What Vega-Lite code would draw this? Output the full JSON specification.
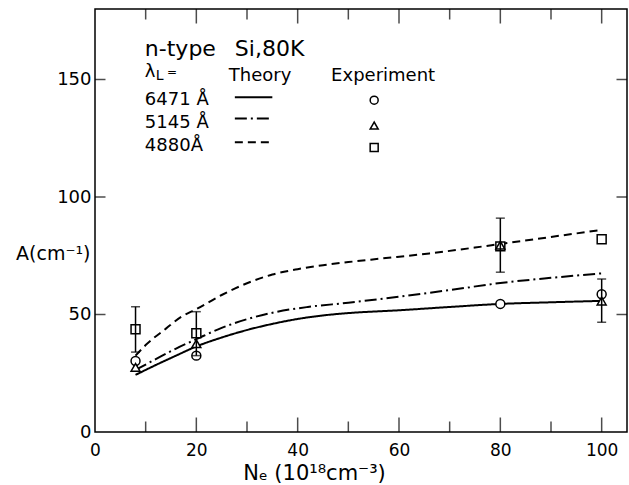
{
  "$schema": "https://vega.github.io/schema/vega-lite/v6.json",
  "width": 532,
  "height": 423,
  "autosize": {"type": "none"},
  "padding": {"left": 95, "top": 9, "right": 2, "bottom": 53},
  "background": "white",
  "config": {
    "view": {"stroke": "black", "strokeWidth": 1.5},
    "font": "DejaVu Sans",
    "axis": {"grid": false, "domain": false, "labelColor": "black", "titleColor": "black", "labelFont": "DejaVu Sans", "titleFont": "DejaVu Sans", "titleFontWeight": "normal", "labelFlush": false, "labelOverlap": false}
  },
  "datasets": {
    "theory": [
      {"lambda": "6471", "x": 8, "y": 24.3}, {"lambda": "6471", "x": 12, "y": 28.5}, {"lambda": "6471", "x": 16, "y": 32.5}, {"lambda": "6471", "x": 20, "y": 36.4}, {"lambda": "6471", "x": 25, "y": 40.2}, {"lambda": "6471", "x": 30, "y": 43.4}, {"lambda": "6471", "x": 35, "y": 46}, {"lambda": "6471", "x": 40, "y": 48.1}, {"lambda": "6471", "x": 45, "y": 49.6}, {"lambda": "6471", "x": 50, "y": 50.6}, {"lambda": "6471", "x": 60, "y": 51.8}, {"lambda": "6471", "x": 70, "y": 53.2}, {"lambda": "6471", "x": 80, "y": 54.5}, {"lambda": "6471", "x": 90, "y": 55.2}, {"lambda": "6471", "x": 100, "y": 55.8},
      {"lambda": "5145", "x": 8, "y": 26.4}, {"lambda": "5145", "x": 12, "y": 31}, {"lambda": "5145", "x": 16, "y": 35.5}, {"lambda": "5145", "x": 20, "y": 39.5}, {"lambda": "5145", "x": 25, "y": 44.3}, {"lambda": "5145", "x": 30, "y": 48}, {"lambda": "5145", "x": 36, "y": 51.2}, {"lambda": "5145", "x": 42, "y": 53.2}, {"lambda": "5145", "x": 50, "y": 55}, {"lambda": "5145", "x": 60, "y": 57.6}, {"lambda": "5145", "x": 70, "y": 60.4}, {"lambda": "5145", "x": 80, "y": 63.4}, {"lambda": "5145", "x": 90, "y": 65.6}, {"lambda": "5145", "x": 100, "y": 67.5},
      {"lambda": "4880", "x": 8, "y": 32.5}, {"lambda": "4880", "x": 10, "y": 37}, {"lambda": "4880", "x": 14, "y": 44}, {"lambda": "4880", "x": 17, "y": 49}, {"lambda": "4880", "x": 20, "y": 52.3}, {"lambda": "4880", "x": 25, "y": 58.3}, {"lambda": "4880", "x": 30, "y": 63.3}, {"lambda": "4880", "x": 35, "y": 67}, {"lambda": "4880", "x": 40, "y": 69.3}, {"lambda": "4880", "x": 45, "y": 71}, {"lambda": "4880", "x": 50, "y": 72.3}, {"lambda": "4880", "x": 56, "y": 73.7}, {"lambda": "4880", "x": 66, "y": 76}, {"lambda": "4880", "x": 75, "y": 78.5}, {"lambda": "4880", "x": 80, "y": 80}, {"lambda": "4880", "x": 90, "y": 83}, {"lambda": "4880", "x": 100, "y": 86}
    ],
    "experiment": [
      {"lambda": "4880", "x": 8, "y": 43.7}, {"lambda": "4880", "x": 20, "y": 42}, {"lambda": "4880", "x": 80, "y": 79}, {"lambda": "4880", "x": 100, "y": 82},
      {"lambda": "6471", "x": 8, "y": 30.2}, {"lambda": "6471", "x": 20, "y": 32.5}, {"lambda": "6471", "x": 80, "y": 54.5}, {"lambda": "6471", "x": 100, "y": 58.6},
      {"lambda": "5145", "x": 8, "y": 27.5}, {"lambda": "5145", "x": 20, "y": 37.6}, {"lambda": "5145", "x": 80, "y": 79.5}, {"lambda": "5145", "x": 100, "y": 55.7}
    ],
    "errors": [
      {"x": 8, "lo": 34, "hi": 53.3}, {"x": 20, "lo": 32.5, "hi": 51.2}, {"x": 80, "lo": 68, "hi": 91}, {"x": 100, "lo": 46.7, "hi": 65.1}
    ],
    "legendLines": [
      {"lambda": "6471", "x": 27.6, "x2": 35.0, "y": 142.5},
      {"lambda": "5145", "x": 27.6, "x2": 35.0, "y": 133.4},
      {"lambda": "4880", "x": 27.6, "x2": 35.0, "y": 123.3}
    ],
    "legendSymbols": [
      {"lambda": "6471", "x": 55.1, "y": 141.2},
      {"lambda": "5145", "x": 55.1, "y": 130.4},
      {"lambda": "4880", "x": 55.1, "y": 121.1}
    ],
    "xTicks": [
      {"tick": 10, "kind": "minor", "edge": 0}, {"tick": 20, "kind": "major", "edge": 0}, {"tick": 30, "kind": "minor", "edge": 0}, {"tick": 40, "kind": "major", "edge": 0}, {"tick": 50, "kind": "minor", "edge": 0},
      {"tick": 60, "kind": "major", "edge": 0}, {"tick": 70, "kind": "minor", "edge": 0}, {"tick": 80, "kind": "major", "edge": 0}, {"tick": 90, "kind": "minor", "edge": 0}, {"tick": 100, "kind": "major", "edge": 0},
      {"tick": 10, "kind": "minor", "edge": 180}, {"tick": 20, "kind": "major", "edge": 180}, {"tick": 30, "kind": "minor", "edge": 180}, {"tick": 40, "kind": "major", "edge": 180}, {"tick": 50, "kind": "minor", "edge": 180},
      {"tick": 60, "kind": "major", "edge": 180}, {"tick": 70, "kind": "minor", "edge": 180}, {"tick": 80, "kind": "major", "edge": 180}, {"tick": 90, "kind": "minor", "edge": 180}, {"tick": 100, "kind": "major", "edge": 180}
    ],
    "yTicks": [
      {"tick": 50, "edge": 0}, {"tick": 100, "edge": 0}, {"tick": 150, "edge": 0},
      {"tick": 50, "edge": 105}, {"tick": 100, "edge": 105}, {"tick": 150, "edge": 105}
    ],
    "textBig": [
      {"text": "n-type", "x": 9.84, "y": 160.2},
      {"text": "Si,80K", "x": 27.6, "y": 160.2}
    ],
    "textMid": [
      {"text": "λ", "x": 9.84, "y": 151.2},
      {"text": "Theory", "x": 26.4, "y": 149.5},
      {"text": "Experiment", "x": 46.6, "y": 149.5},
      {"text": "6471 Å", "x": 9.84, "y": 139.3},
      {"text": "5145 Å", "x": 9.84, "y": 129.4},
      {"text": "4880Å", "x": 9.84, "y": 119.7}
    ],
    "textSub": [
      {"text": "L", "x": 12.0, "y": 149.9}
    ],
    "textEq": [
      {"text": "=", "x": 14.2, "y": 151.6}
    ]
  },
  "layer": [
    {
      "data": {"name": "theory"},
      "mark": {"type": "line", "interpolate": "monotone", "color": "black", "strokeWidth": 2},
      "encoding": {
        "x": {"field": "x", "type": "quantitative", "scale": {"domain": [0, 105], "nice": false},
          "axis": {"orient": "bottom", "values": [0, 20, 40, 60, 80, 100], "ticks": false, "labelPadding": 10, "labelFontSize": 17, "format": "d",
            "title": "Nₑ (10¹⁸cm⁻³)", "titleFontSize": 21, "titleX": 219, "titleY": 41, "titleBaseline": "middle", "titleAlign": "center"}},
        "y": {"field": "y", "type": "quantitative", "scale": {"domain": [0, 180], "nice": false},
          "axis": {"orient": "left", "values": [0, 50, 100, 150], "ticks": false, "labelPadding": 4, "labelFontSize": 18, "format": "d",
            "title": "A(cm⁻¹)", "titleAngle": 0, "titleX": -5, "titleY": 244, "titleAlign": "right", "titleBaseline": "middle", "titleFontSize": 19}},
        "strokeDash": {"field": "lambda", "type": "nominal", "scale": {"domain": ["6471", "5145", "4880"], "range": [[1, 0], [12, 4, 2, 4], [8, 5]]}, "legend": null}
      }
    },
    {
      "data": {"name": "xTicks"},
      "mark": {"type": "tick", "orient": "vertical", "color": "black", "thickness": 1.5, "clip": true},
      "encoding": {
        "x": {"field": "tick", "type": "quantitative"},
        "y": {"field": "edge", "type": "quantitative", "title": "A(cm⁻¹)"},
        "size": {"field": "kind", "type": "nominal", "scale": {"domain": ["major", "minor"], "range": [29, 21]}, "legend": null}
      }
    },
    {
      "data": {"name": "yTicks"},
      "mark": {"type": "tick", "orient": "horizontal", "color": "black", "thickness": 1.5, "size": 21, "clip": true},
      "encoding": {
        "x": {"field": "edge", "type": "quantitative", "title": "Nₑ (10¹⁸cm⁻³)"},
        "y": {"field": "tick", "type": "quantitative", "title": "A(cm⁻¹)"}
      }
    },
    {
      "data": {"name": "legendLines"},
      "mark": {"type": "rule", "color": "black", "strokeWidth": 2},
      "encoding": {
        "x": {"field": "x", "type": "quantitative"},
        "x2": {"field": "x2"},
        "y": {"field": "y", "type": "quantitative"},
        "strokeDash": {"field": "lambda", "type": "nominal", "legend": null}
      }
    },
    {
      "data": {"name": "experiment"},
      "mark": {"type": "point", "filled": false, "fill": "white", "stroke": "black", "strokeWidth": 1.5, "size": 80, "opacity": 1, "fillOpacity": 1},
      "encoding": {
        "x": {"field": "x", "type": "quantitative"},
        "y": {"field": "y", "type": "quantitative"},
        "shape": {"field": "lambda", "type": "nominal", "scale": {"domain": ["6471", "5145", "4880"], "range": ["circle", "triangle-up", "square"]}, "legend": null}
      }
    },
    {
      "data": {"name": "errors"},
      "mark": {"type": "errorbar", "color": "black", "ticks": {"size": 9, "thickness": 1.5, "color": "black"}, "rule": {"strokeWidth": 1.5, "color": "black"}},
      "encoding": {
        "x": {"field": "x", "type": "quantitative"},
        "y": {"field": "lo", "type": "quantitative", "title": "A(cm⁻¹)"},
        "y2": {"field": "hi"}
      }
    },
    {
      "data": {"name": "legendSymbols"},
      "mark": {"type": "point", "filled": false, "fill": "white", "stroke": "black", "strokeWidth": 1.5, "size": 64, "opacity": 1, "fillOpacity": 1},
      "encoding": {
        "x": {"field": "x", "type": "quantitative"},
        "y": {"field": "y", "type": "quantitative"},
        "shape": {"field": "lambda", "type": "nominal", "legend": null}
      }
    },
    {
      "data": {"name": "textBig"},
      "mark": {"type": "text", "align": "left", "baseline": "alphabetic", "fontSize": 22, "color": "black"},
      "encoding": {
        "x": {"field": "x", "type": "quantitative"},
        "y": {"field": "y", "type": "quantitative"},
        "text": {"field": "text"}
      }
    },
    {
      "data": {"name": "textMid"},
      "mark": {"type": "text", "align": "left", "baseline": "alphabetic", "fontSize": 18, "color": "black"},
      "encoding": {
        "x": {"field": "x", "type": "quantitative"},
        "y": {"field": "y", "type": "quantitative"},
        "text": {"field": "text"}
      }
    },
    {
      "data": {"name": "textSub"},
      "mark": {"type": "text", "align": "left", "baseline": "alphabetic", "fontSize": 14, "color": "black"},
      "encoding": {
        "x": {"field": "x", "type": "quantitative"},
        "y": {"field": "y", "type": "quantitative"},
        "text": {"field": "text"}
      }
    },
    {
      "data": {"name": "textEq"},
      "mark": {"type": "text", "align": "left", "baseline": "alphabetic", "fontSize": 12, "color": "black"},
      "encoding": {
        "x": {"field": "x", "type": "quantitative"},
        "y": {"field": "y", "type": "quantitative"},
        "text": {"field": "text"}
      }
    }
  ]
}
